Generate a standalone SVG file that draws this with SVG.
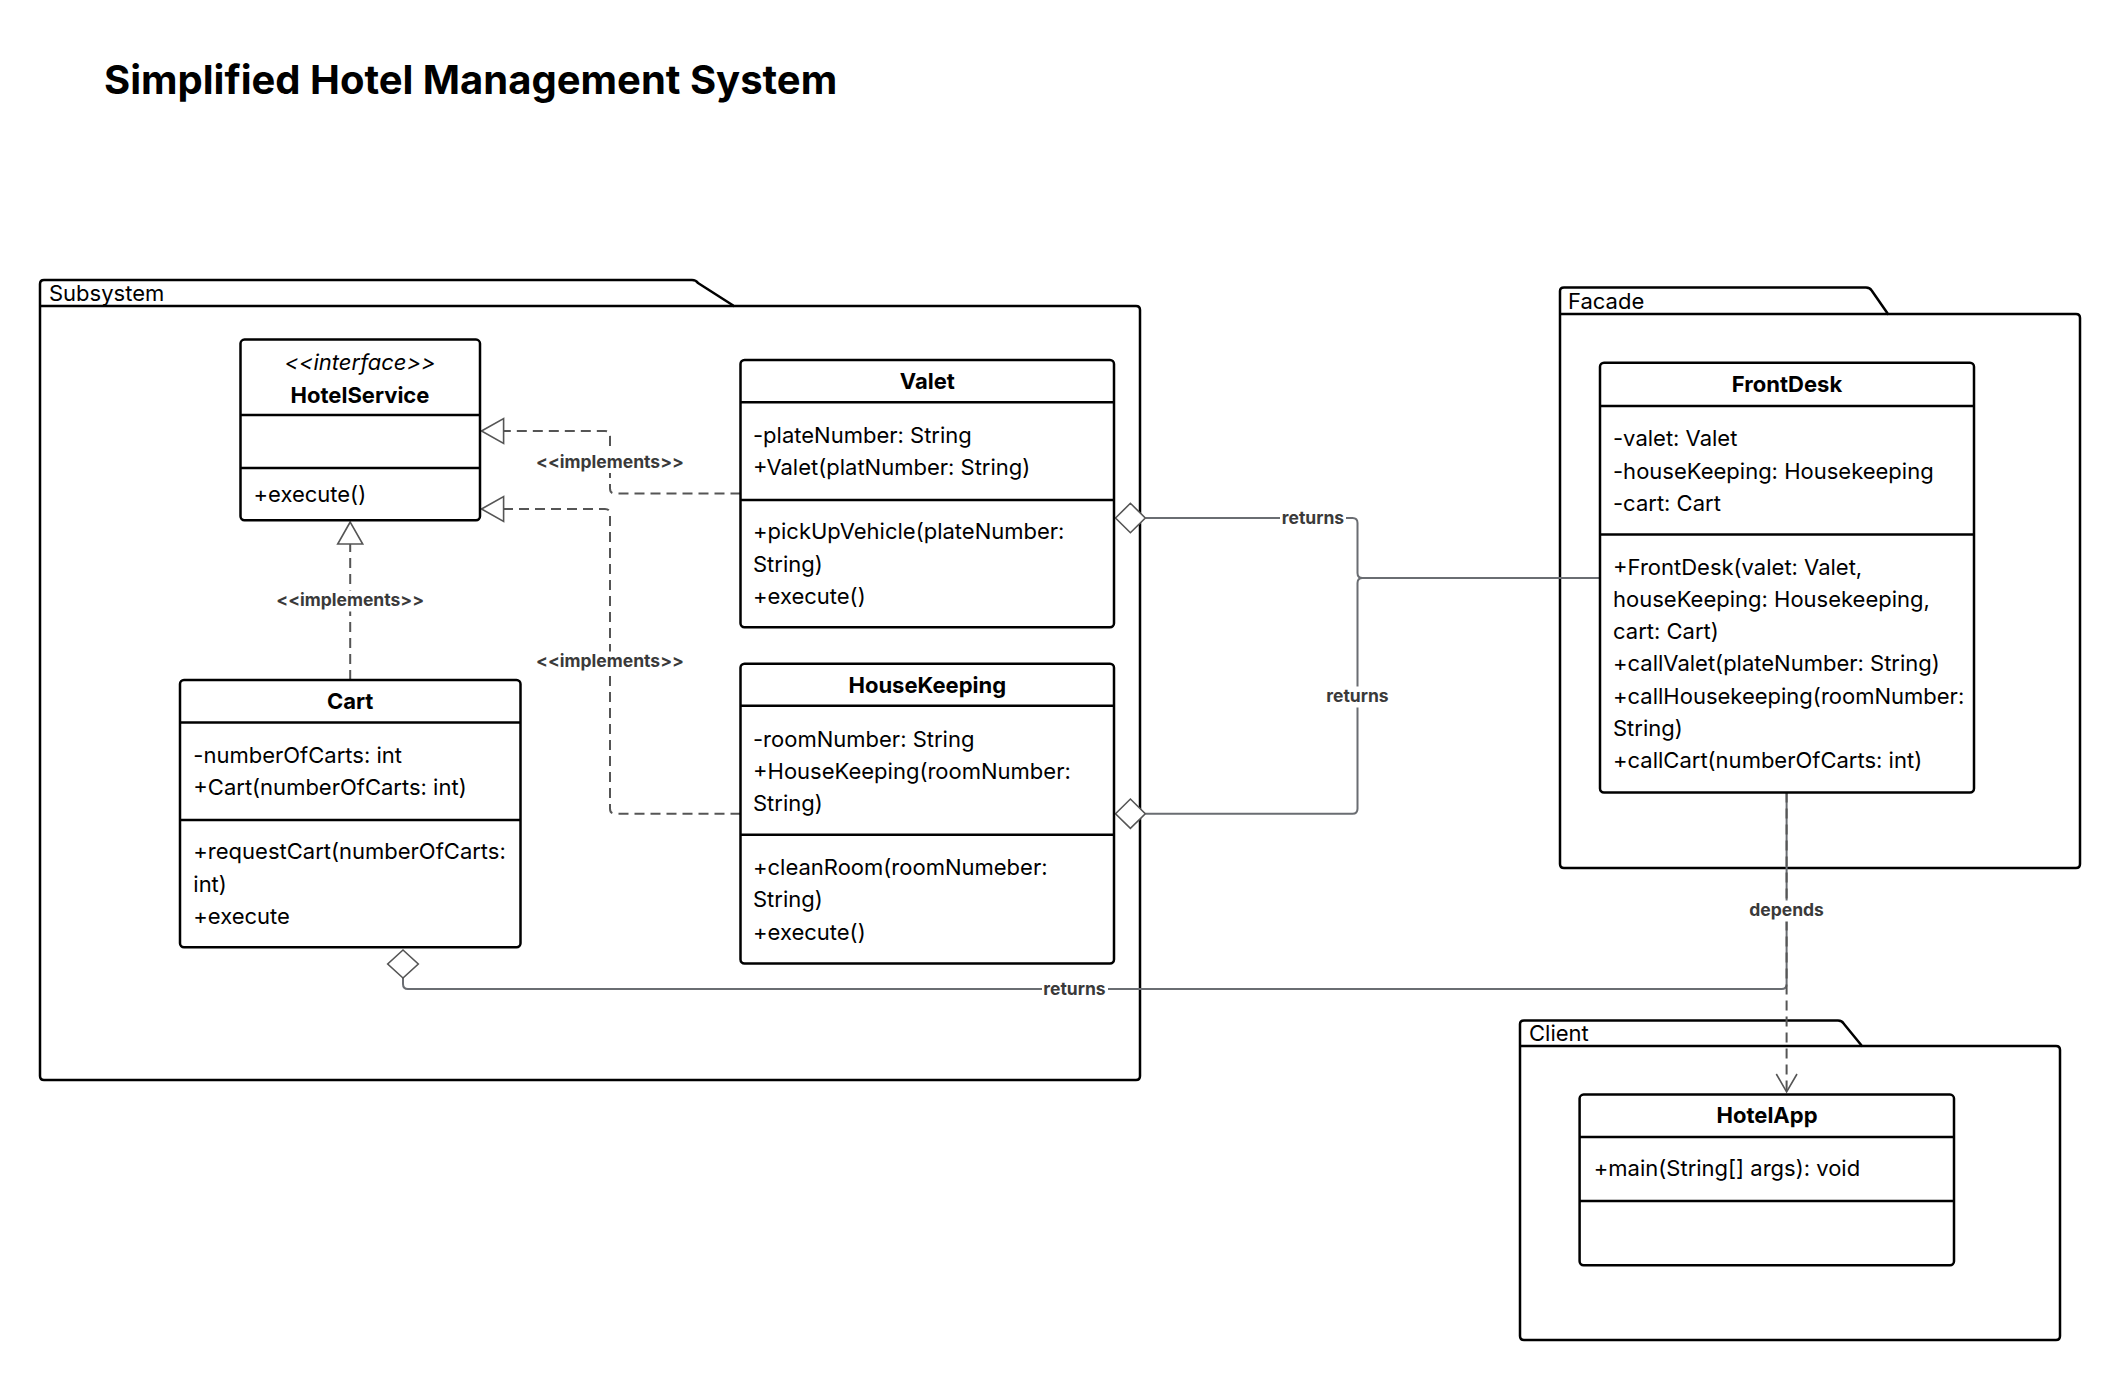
<svg xmlns="http://www.w3.org/2000/svg" width="2120" height="1380" viewBox="0 0 2120 1380">
<style>
.pkg{fill:#fff;stroke:#000;stroke-width:2.5;stroke-linejoin:round}
.box{fill:#fff;stroke:#000;stroke-width:2.5}
.div{stroke:#000;stroke-width:2.5}
.t{font-family:Inter,"Noto Sans",sans-serif;font-size:22px;fill:#000}
.tb{font-family:Inter,"Noto Sans",sans-serif;font-size:22px;font-weight:bold;fill:#000;text-anchor:middle}
.ti{font-family:Inter,"Noto Sans",sans-serif;font-size:22px;font-style:italic;fill:#000;text-anchor:middle}
.lbl{font-family:Inter,"Noto Sans",sans-serif;font-size:17.5px;font-weight:bold;fill:#3a3a3a;text-anchor:middle}
.sol{fill:none;stroke:#6a6d72;stroke-width:2}
.dash{fill:none;stroke:#555;stroke-width:2;stroke-dasharray:10 6}
.head{fill:#fff;stroke:#555;stroke-width:1.6}
.bg{fill:#fff}
</style>

<text x="104" y="94" font-family="Inter,'Noto Sans',sans-serif" font-size="40" font-weight="bold" fill="#000">Simplified Hotel Management System</text>

<g id="pkg-subsystem">
<path class="pkg" d="M40,1076 V284 Q40,280 44,280 H692 Q696,280 698,283 L734,306 H1136 Q1140,306 1140,310 V1076 Q1140,1080 1136,1080 H44 Q40,1080 40,1076 Z"/>
<line class="div" x1="40" y1="306" x2="734" y2="306"/>
<text class="t" x="49" y="301">Subsystem</text>
</g>

<g id="pkg-facade">
<path class="pkg" d="M1560,864 V291 Q1560,287.5 1564,287.5 H1866 Q1870,287.5 1872,291 L1888,314 H2076 Q2080,314 2080,318 V864 Q2080,868 2076,868 H1564 Q1560,868 1560,864 Z"/>
<line class="div" x1="1560" y1="314" x2="1888" y2="314"/>
<text class="t" x="1568" y="309">Facade</text>
</g>

<g id="pkg-client">
<path class="pkg" d="M1520,1336 V1024 Q1520,1020.5 1524,1020.5 H1838 Q1842,1020.5 1844,1024 L1862,1046 H2056 Q2060,1046 2060,1050 V1336 Q2060,1340 2056,1340 H1524 Q1520,1340 1520,1336 Z"/>
<line class="div" x1="1520" y1="1046" x2="1862" y2="1046"/>
<text class="t" x="1529" y="1041">Client</text>
</g>

<g id="connectors">
<!-- realizations -->
<path class="dash" d="M740.5,493.5 H615 Q610,493.5 610,488.5 V436 Q610,431 605,431 H503.6"/>
<path class="dash" d="M740.5,813.7 H615 Q610,813.7 610,808.7 V514 Q610,509 605,509 H503.6"/>
<path class="dash" d="M350.2,680 V544"/>
<polygon class="head" points="481.5,431 503.6,418.5 503.6,443.5"/>
<polygon class="head" points="481.5,509 503.6,496.5 503.6,521.5"/>
<polygon class="head" points="350.2,522 337.7,544 362.7,544"/>
<!-- aggregations -->
<path class="sol" d="M1145.3,518 H1352.5 Q1357.5,518 1357.5,523 V573 Q1357.5,578 1362.5,578 H1600"/>
<path class="sol" d="M1145.3,813.7 H1352.5 Q1357.5,813.7 1357.5,808.7 V583 Q1357.5,578 1362.5,578 H1600"/>
<path class="sol" d="M403,978 V984 Q403,989 408,989 H1781.6 Q1786.6,989 1786.6,984 V792.5"/>
<polygon class="head" points="1115.5,518 1130.4,503.3 1145.3,518 1130.4,532.7"/>
<polygon class="head" points="1115.5,813.7 1130.4,799 1145.3,813.7 1130.4,828.4"/>
<polygon class="head" points="403,950 418.3,964 403,978 387.7,964"/>
<!-- dependency -->
<path class="dash" d="M1786.6,792.5 V1091"/>
<path fill="none" stroke="#555" stroke-width="1.6" d="M1776.3,1074 L1786.6,1092 L1797,1074"/>
<!-- labels -->
<rect class="bg" x="533" y="452" width="154" height="21"/>
<text class="lbl" x="610" y="467.5">&lt;&lt;implements&gt;&gt;</text>
<rect class="bg" x="533" y="651.5" width="154" height="21"/>
<text class="lbl" x="610" y="667">&lt;&lt;implements&gt;&gt;</text>
<rect class="bg" x="273" y="590.5" width="154" height="21"/>
<text class="lbl" x="350.2" y="606">&lt;&lt;implements&gt;&gt;</text>
<rect class="bg" x="1280" y="508" width="66" height="21"/>
<text class="lbl" x="1313" y="523.5">returns</text>
<rect class="bg" x="1324" y="686.5" width="66" height="21"/>
<text class="lbl" x="1357.5" y="702">returns</text>
<rect class="bg" x="1042" y="979.5" width="66" height="21"/>
<text class="lbl" x="1074.5" y="995">returns</text>
<rect class="bg" x="1748" y="900.5" width="78" height="21"/>
<text class="lbl" x="1786.6" y="916">depends</text>
</g>

<g id="HotelService">
<rect class="box" x="240.5" y="339.6" width="239.5" height="180.6" rx="4"/>
<line class="div" x1="240.5" y1="415" x2="480" y2="415"/>
<line class="div" x1="240.5" y1="468" x2="480" y2="468"/>
<text class="ti" x="360" y="370">&lt;&lt;interface&gt;&gt;</text>
<text class="tb" x="360" y="402.5">HotelService</text>
<text class="t" x="253.5" y="502">+execute()</text>
</g>

<g id="Cart">
<rect class="box" x="180" y="680" width="340.5" height="267.3" rx="4"/>
<line class="div" x1="180" y1="722.5" x2="520.5" y2="722.5"/>
<line class="div" x1="180" y1="820" x2="520.5" y2="820"/>
<text class="tb" x="350.2" y="709.3">Cart</text>
<text class="t" x="193.3" y="762.7">-numberOfCarts: int</text>
<text class="t" x="193.3" y="795">+Cart(numberOfCarts: int)</text>
<text class="t" x="193.3" y="859.3">+requestCart(numberOfCarts:</text>
<text class="t" x="193.3" y="891.5">int)</text>
<text class="t" x="193.3" y="923.5">+execute</text>
</g>

<g id="Valet">
<rect class="box" x="740.5" y="360" width="373.5" height="267.3" rx="4"/>
<line class="div" x1="740.5" y1="402.3" x2="1114" y2="402.3"/>
<line class="div" x1="740.5" y1="500" x2="1114" y2="500"/>
<text class="tb" x="927.3" y="389">Valet</text>
<text class="t" x="753" y="443.2">-plateNumber: String</text>
<text class="t" x="753" y="475.3">+Valet(platNumber: String)</text>
<text class="t" x="753" y="539.3">+pickUpVehicle(plateNumber:</text>
<text class="t" x="753" y="571.6">String)</text>
<text class="t" x="753" y="603.5">+execute()</text>
</g>

<g id="HouseKeeping">
<rect class="box" x="740.5" y="663.7" width="373.5" height="299.8" rx="4"/>
<line class="div" x1="740.5" y1="705.8" x2="1114" y2="705.8"/>
<line class="div" x1="740.5" y1="834.7" x2="1114" y2="834.7"/>
<text class="tb" x="927.3" y="693.2">HouseKeeping</text>
<text class="t" x="753" y="746.7">-roomNumber: String</text>
<text class="t" x="753" y="778.7">+HouseKeeping(roomNumber:</text>
<text class="t" x="753" y="810.8">String)</text>
<text class="t" x="753" y="875">+cleanRoom(roomNumeber:</text>
<text class="t" x="753" y="907.3">String)</text>
<text class="t" x="753" y="939.6">+execute()</text>
</g>

<g id="FrontDesk">
<rect class="box" x="1600" y="362.7" width="374" height="429.8" rx="4"/>
<line class="div" x1="1600" y1="406" x2="1974" y2="406"/>
<line class="div" x1="1600" y1="534.5" x2="1974" y2="534.5"/>
<text class="tb" x="1787" y="391.8">FrontDesk</text>
<text class="t" x="1613" y="446">-valet: Valet</text>
<text class="t" x="1613" y="478.5">-houseKeeping: Housekeeping</text>
<text class="t" x="1613" y="510.5">-cart: Cart</text>
<text class="t" x="1613" y="574.5">+FrontDesk(valet: Valet,</text>
<text class="t" x="1613" y="607">houseKeeping: Housekeeping,</text>
<text class="t" x="1613" y="639">cart: Cart)</text>
<text class="t" x="1613" y="671.3">+callValet(plateNumber: String)</text>
<text class="t" x="1613" y="703.6">+callHousekeeping(roomNumber:</text>
<text class="t" x="1613" y="735.5">String)</text>
<text class="t" x="1613" y="767.7">+callCart(numberOfCarts: int)</text>
</g>

<g id="HotelApp">
<rect class="box" x="1579.6" y="1094.6" width="374.4" height="170.7" rx="4"/>
<line class="div" x1="1579.6" y1="1137" x2="1954" y2="1137"/>
<line class="div" x1="1579.6" y1="1201" x2="1954" y2="1201"/>
<text class="tb" x="1767" y="1122.5">HotelApp</text>
<text class="t" x="1593.8" y="1176">+main(String[] args): void</text>
</g>
</svg>
